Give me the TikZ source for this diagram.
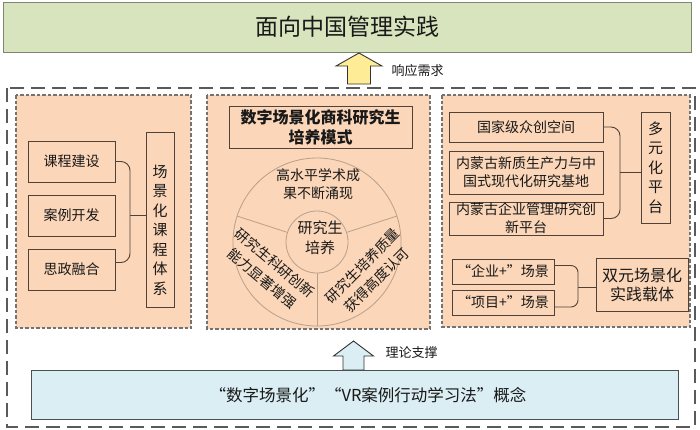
\documentclass[tikz,border=0pt]{standalone}
\usepackage{fontspec}
\setmainfont{Noto Sans CJK SC}
\usetikzlibrary{calc}
\definecolor{greenfill}{RGB}{215,228,189}
\definecolor{greendraw}{RGB}{125,135,110}
\definecolor{peach}{RGB}{251,214,184}
\definecolor{paneldraw}{RGB}{115,115,115}
\definecolor{outerdraw}{RGB}{90,90,90}
\definecolor{boxdraw}{RGB}{80,66,56}
\definecolor{bluefill}{RGB}{218,238,243}
\definecolor{bluedraw}{RGB}{70,80,85}
\definecolor{yellowfill}{RGB}{255,236,150}
\definecolor{ringcol}{RGB}{185,160,140}
\definecolor{txt}{RGB}{25,25,25}
\begin{document}
\begin{tikzpicture}[x=1pt,y=-1pt,text=txt,
  box/.style={draw=boxdraw, line width=0.9pt, inner sep=0pt, align=center},
  panel/.style={draw=paneldraw, fill=peach, line width=1.2pt, dash pattern=on 3.5pt off 2pt},
  conn/.style={draw=boxdraw, line width=0.9pt, rounded corners=9pt},
  fa/.style={font=\fontsize{14}{18}\selectfont},
  fr/.style={font=\fontsize{14}{20}\selectfont},
  fb/.style={font=\fontsize{15}{19.5}\selectfont},
  fc/.style={font=\fontsize{13}{16}\selectfont},
  blockarrow/.style={draw=black!80, line width=0.9pt, line join=miter}]
\useasboundingbox (0,0) rectangle (700,429);

% top green box
\node[draw=greendraw, fill=greenfill, line width=0.8pt, minimum width=688, minimum height=50, inner sep=0pt,
  font=\fontsize{23}{26}\selectfont] (top) at (347,27) {面向中国管理实践};

% yellow arrow
\draw[blockarrow, fill=yellowfill] (359,53) -- (382,66) -- (370.5,66) -- (370.5,84) -- (347.5,84) -- (347.5,66) -- (336,66) -- cycle;
\node[fc, anchor=west] (resp) at (388,71) {响应需求};

% outer dashed box
\draw[draw=outerdraw, line width=1.8pt, dash pattern=on 14pt off 7pt] (7,88) rectangle (695,427);

% panels
\draw[panel] (16,95) rectangle (191,328);
\draw[panel] (207,95) rectangle (430,329);
\draw[panel] (442,95) rectangle (690,327);

% left panel
\node[box, fa, minimum width=87, minimum height=41] (kc) at (71.5,161.5) {课程建设};
\node[box, fa, minimum width=87, minimum height=41] (kf) at (71.5,215.5) {案例开发};
\node[box, fa, minimum width=87, minimum height=41] (sz) at (71.5,269.5) {思政融合};
\node[box, minimum width=28, minimum height=175] (vsys) at (160,219.5) {};
\node[fb, align=center, inner sep=0pt] (vsyst) at (160,230) {场\\景\\化\\课\\程\\体\\系};
\coordinate (lb) at (130,0);
\draw[conn] (kc.east) -- (kc.east -| lb) -- ([yshift=7pt]sz.east -| lb) -- ([yshift=7pt]sz.east);
\draw[conn] (kf.east -| lb) -- (kf.east -| vsys.west);

% middle panel
\node[box, minimum width=183, minimum height=42, font=\fontsize{16}{20}\selectfont\bfseries] (title) at (320.5,127) {数字场景化商科研究生\\培养模式};
\coordinate (c) at (317,242);
\draw[ringcol, line width=0.8pt] (c) circle[radius=84];
\draw[ringcol, line width=0.8pt] (c) circle[radius=31];
\draw[ringcol, line width=0.8pt] ($(c)+(-162:31)$) -- ($(c)+(-162:84)$);
\draw[ringcol, line width=0.8pt] ($(c)+(-18:31)$) -- ($(c)+(-18:84)$);
\draw[ringcol, line width=0.8pt] ($(c)+(90:31)$) -- ($(c)+(90:84)$);
\node[fa, align=center, inner sep=0pt] (gsp) at (318,184) {高水平学术成\\果不断涌现};
\node[fb, align=center, inner sep=0pt] (core) at (320,238) {研究生\\培养};
\node[fr, align=center, inner sep=0pt, rotate=-40] (kyc) at (268.5,271) {研究生科研创新\\能力显著增强};
\node[fr, align=center, inner sep=0pt, rotate=45] (pyq) at (369.5,273) {研究生培养质量\\获得高度认可};

% right panel
\node[box, fa, minimum width=154, minimum height=30] (gj) at (526,127) {国家级众创空间};
\node[box, fa, minimum width=154, minimum height=43] (xz) at (526,172.5) {内蒙古新质生产力与中\\国式现代化研究基地};
\node[box, fa, minimum width=154, minimum height=33] (qy) at (526,218.5) {内蒙古企业管理研究创\\新平台};
\node[box, fb, minimum width=29, minimum height=111] (dy) at (655.5,167.5) {多\\元\\化\\平\\台};
\coordinate (rb) at (620,0);
\draw[conn] (gj.east) -- (gj.east -| rb) -- (qy.east -| rb) -- (qy.east);
\draw[conn] (xz.east -| rb) -- (xz.east -| dy.west);

\node[box, fa, minimum width=102, minimum height=25] (qj) at (503,271.5) {“企业+”场景};
\node[box, fa, minimum width=102, minimum height=25] (xm) at (503,302.5) {“项目+”场景};
\node[box, minimum width=92, minimum height=53, font=\fontsize{16}{19}\selectfont] (sy) at (642,284.5) {双元场景化\\实践载体};
\coordinate (sb) at (578,0);
\draw[conn, rounded corners=7pt] ([yshift=6pt]qj.east) -- ([yshift=6pt]qj.east -| sb) -- ([yshift=-4.5pt]xm.east -| sb) -- ([yshift=-4.5pt]xm.east);
\coordinate (sm) at ($(qj.east)!.5!(xm.east)$);
\draw[conn] (sm -| sb) -- (sm -| sy.west);

% blue arrow and box
\node[draw=bluedraw, fill=bluefill, line width=0.9pt, minimum width=647, minimum height=49, inner sep=0pt] (base) at (354.5,394.5) {};
\node[inner sep=0pt, font=\fontsize{16.5}{20}\selectfont] (baset) at (368,395) {“数字场景化”“VR案例行动学习法”概念};
\draw[blockarrow, fill=bluefill] (353.5,341) -- (373.5,356) -- (364,356) -- (364,370) -- (343,370) -- (343,356) -- (333.5,356) -- cycle;
\node[fc, anchor=west] (theo) at (382,353) {理论支撑};
\end{tikzpicture}
\end{document}
